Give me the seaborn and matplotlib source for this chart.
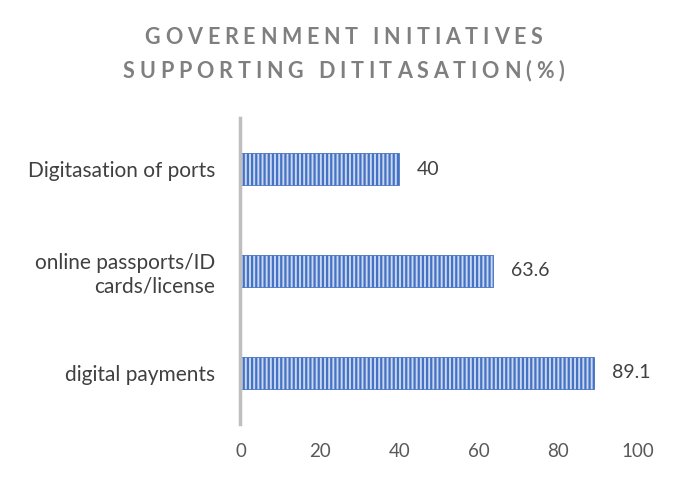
import matplotlib
matplotlib.use("Agg")
import matplotlib.pyplot as plt
from matplotlib.font_manager import FontProperties, findfont, get_font
import seaborn as sns
import pandas as pd

categories = ["Digitasation of ports", "online passports/ID\ncards/license", "digital payments"]
values = [40, 63.6, 89.1]
x_ticks = [0, 20, 40, 60, 80, 100]
title_lines = ["GOVERENMENT INITIATIVES", "SUPPORTING DITITASATION(%)"]

sns.set_theme(style="white")
plt.rcParams["font.family"] = ["Lato", "DejaVu Sans"]
plt.rcParams["hatch.linewidth"] = 1.6
plt.rcParams["hatch.color"] = "#4472C4"

DPI = 100
df = pd.DataFrame({"initiative": categories, "share": values})

fig = plt.figure(figsize=(6.87, 4.86), dpi=DPI)
ax = fig.add_axes([0.350, 0.128, 0.578, 0.629])

sns.barplot(data=df, y="initiative", x="share", orient="h", order=categories,
            color="#c9d7f0", width=0.31, ax=ax, saturation=1)
for bar in ax.patches:
    bar.set_hatch("||||")
    bar.set_edgecolor("#4472C4")
    bar.set_linewidth(0.6)

for bar, v in zip(ax.patches, values):
    ax.text(bar.get_width() + 4.5, bar.get_y() + bar.get_height() / 2,
            f"{v:g}", va="center", ha="left", fontsize=14, color="#404040")

ax.set_xlim(0, 100)
ax.set_ylim(2.5, -0.5)
ax.set_xticks(x_ticks)
ax.set_xticklabels([str(t) for t in x_ticks])
ax.tick_params(axis="x", length=0, labelsize=13.5, labelcolor="#595959", pad=14)
ax.tick_params(axis="y", length=0, labelsize=15, labelcolor="#404040", pad=18)
ax.set_xlabel("")
ax.set_ylabel("")
for s in ["top", "right", "bottom"]:
    ax.spines[s].set_visible(False)
ax.spines["left"].set_color("#bfbfbf")
ax.spines["left"].set_linewidth(2.5)


def spaced_title(line, y_px, size=15.5, tracking=4.8):
    """Draw a line of title text with extra letter spacing (tracking in px)."""
    prop = FontProperties(family="Lato", weight="bold", size=size)
    font = get_font(findfont(prop))
    font.set_size(size, DPI)
    advances = [font.load_char(ord(ch)).linearHoriAdvance / 65536 for ch in line]
    total = sum(advances) + tracking * (len(line) - 1)
    W = fig.get_figwidth() * DPI
    H = fig.get_figheight() * DPI
    x = (W - total) / 2
    for ch, adv in zip(line, advances):
        if ch != " ":
            fig.text(x / W, 1 - y_px / H, ch, ha="left", va="center",
                     fontproperties=prop, color="#7f7f7f")
        x += adv + tracking


spaced_title(title_lines[0], 38)
spaced_title(title_lines[1], 71)

fig.savefig("out.png", dpi=DPI, facecolor="white")
